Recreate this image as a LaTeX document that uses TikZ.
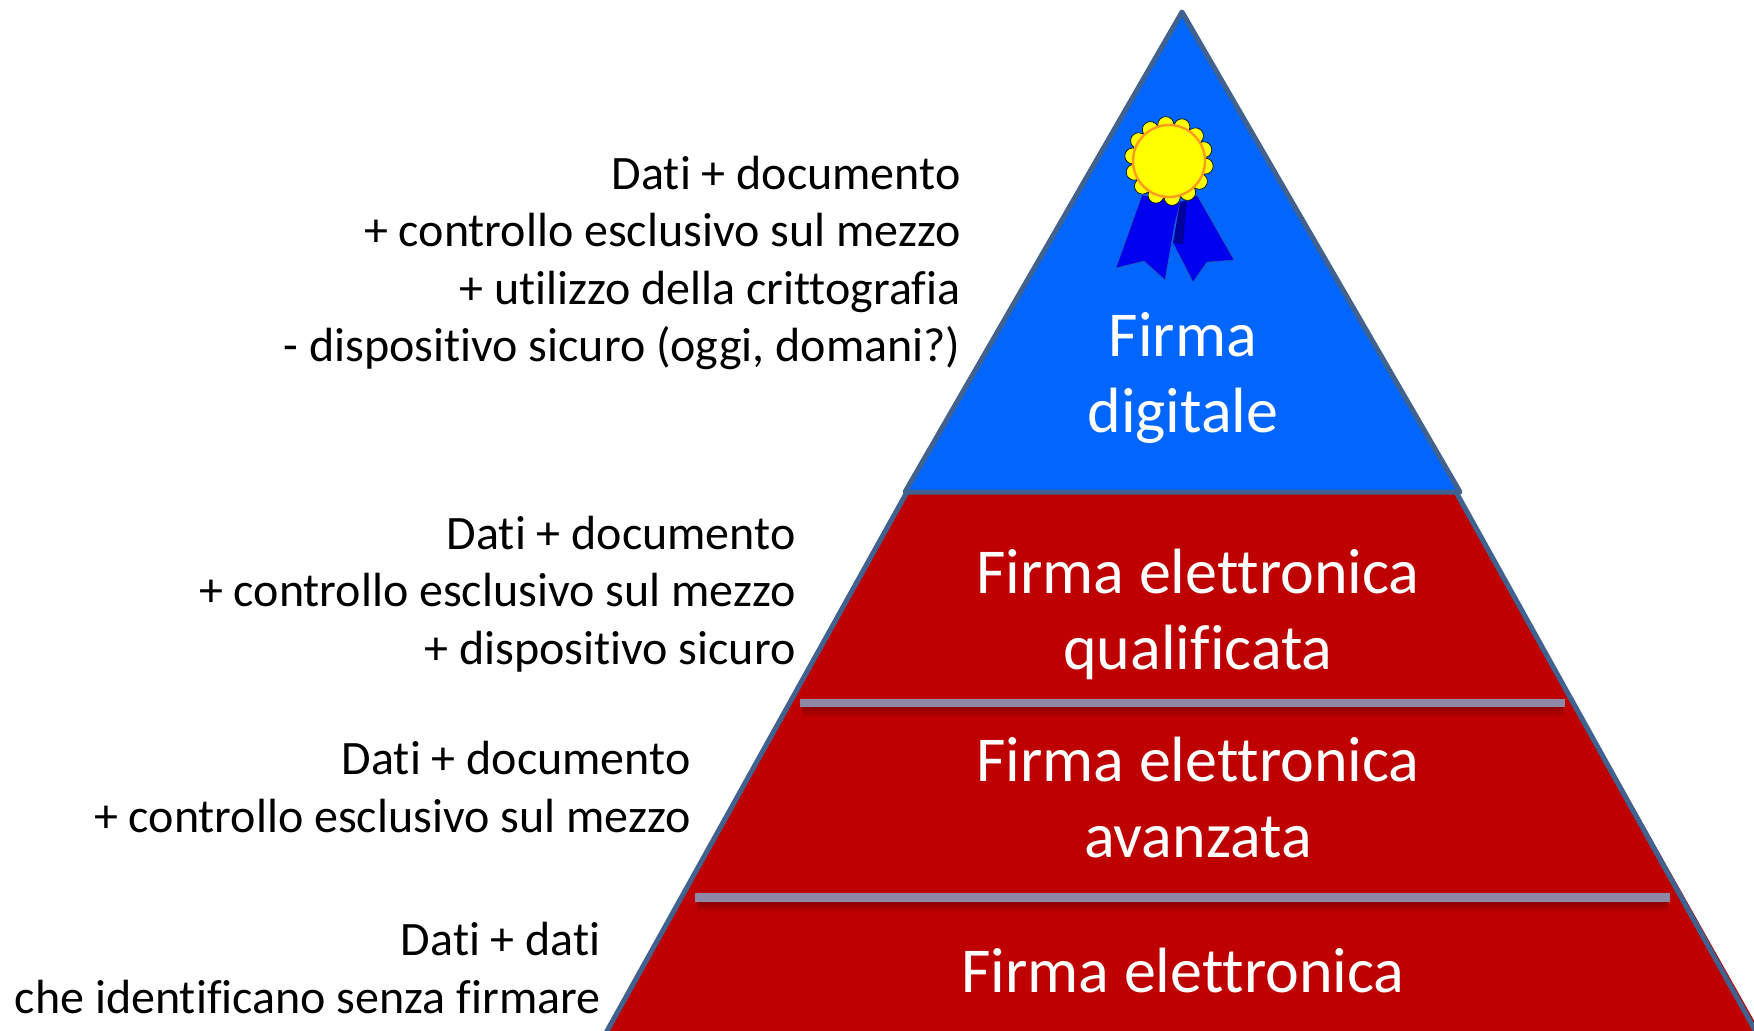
\documentclass[tikz,border=0pt]{standalone}
\usepackage{fontspec}
\setmainfont[Ligatures=NoCommon]{Carlito}
\usetikzlibrary{positioning}
\definecolor{edgeblue}{HTML}{41628F}
\definecolor{firmablue}{HTML}{0066FF}
\definecolor{firmared}{HTML}{BE0000}
\definecolor{shadowred}{HTML}{8E0000}
\definecolor{bargrey}{HTML}{8E88A6}
\definecolor{ribbonblue}{HTML}{0000F0}
\definecolor{ribbondark}{HTML}{00009A}
\definecolor{sealyellow}{HTML}{FFFF00}
\definecolor{sealorange}{HTML}{FF9A1E}
\tikzset{
	note/.style={anchor=east, align=right, inner sep=0pt, font=\fontsize{24}{28.8}\selectfont},
	level/.style={align=center, inner sep=0pt, text=white, font=\fontsize{32}{38}\selectfont},
	bar/.style={fill=bargrey},
	barshadow/.style={top color=shadowred, bottom color=firmared}
}

\begin{document}
\begin{tikzpicture}[x=0.5pt,y=-0.5pt]
			\useasboundingbox (0,0) rectangle (1754,1030);
			\clip (0,0) rectangle (1754,1030);
			% pyramid
			\fill[firmared] (907,492) -- (1456,492) -- (1765,1040) -- (602,1040) -- cycle;
			\draw[edgeblue, line width=2.5pt] (907,492) -- (602,1040) (1456,492) -- (1765,1048);
			\draw[edgeblue, fill=firmablue, line width=2.5pt, line join=round] (1182,12) -- (1460,492) -- (905,492) -- cycle;
			% bars
			\shade[barshadow] (802,707) rectangle (1563,717);
			\fill[bar] (800,699) rectangle (1565,707);
			\shade[barshadow] (697,902) rectangle (1668,912);
			\fill[bar] (695,893) rectangle (1670,902);
			% seal
			\fill[ribbonblue, draw=edgeblue, line width=0.2pt] (1142,195) -- (1116,268) -- (1144,261) -- (1165,280) -- (1175,223) -- (1180,203) -- cycle;
			\fill[ribbonblue, draw=edgeblue, line width=0.2pt] (1197,195) -- (1234,260) -- (1207,262) -- (1193,282) -- (1173,243) -- (1185,203) -- cycle;
			\fill[ribbondark] (1180,202) -- (1187,200) -- (1183,244) -- (1173,243) -- cycle;
			\foreach \a in {0,25.7,...,340}
				\fill[sealyellow, draw=black, line width=0.3pt] (1169,161) ++(\a+8:36.5) circle (8);
			\fill[sealyellow, draw=sealorange, line width=1.2pt] (1169,161) circle (36);
			% labels
			\node[level] (digitale) at (1183,378) {Firma\\digitale};
			\node[level] (qualificata) at (1198,614) {Firma elettronica\\qualificata};
			\node[level] (avanzata) at (1198,797) {Firma elettronica\\avanzata};
			\node[level] (elettronica) at (1183,970) {Firma elettronica};
			\node[note] (notedigitale) at (961,263) {Dati + documento\\+ controllo esclusivo sul mezzo\\+ utilizzo della crittografia\\- dispositivo sicuro (oggi, domani?)};
			\node[note] (notequalificata) at (796,594) {Dati + documento\\+ controllo esclusivo sul mezzo\\+ dispositivo sicuro};
			\node[note] (noteavanzata) at (691,787) {Dati + documento\\+ controllo esclusivo sul mezzo};
			\node[note] (noteelettronica) at (601,968) {Dati + dati\\che identificano senza firmare};
		\end{tikzpicture}
\end{document}
